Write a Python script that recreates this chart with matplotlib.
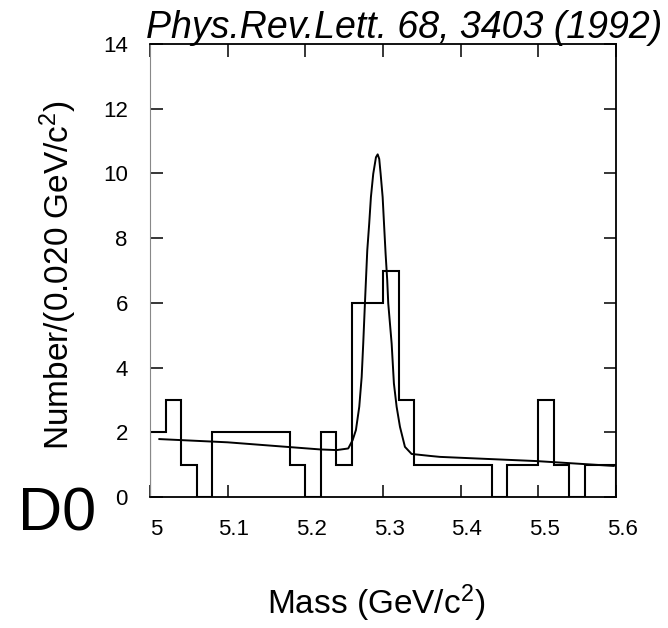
#!/usr/bin/env python3
"""
D0 B-meson candidate mass spectrum (Phys.Rev.Lett. 68, 3403 (1992)).
"""

import numpy as np
import matplotlib
matplotlib.use("Agg")
import matplotlib.pyplot as plt
import matplotlib.transforms as mtransforms

plt.rcParams['font.family'] = ['Liberation Sans', 'DejaVu Sans']
plt.rcParams['mathtext.fontset'] = 'custom'
plt.rcParams['mathtext.rm'] = 'Liberation Sans'
plt.rcParams['mathtext.it'] = 'Liberation Sans:italic'

# histogram: events per 0.020 GeV/c^2 bin, starting at 5.00
bin_start = 5.0
bin_width = 0.020
counts = [2, 3, 1, 0, 2, 2, 2, 2, 2, 1,
          0, 2, 1, 6, 6, 7, 3, 1, 1, 1,
          1, 1, 0, 1, 1, 3, 1, 0, 1, 1]

# fitted curve (gaussian peak on a sloping background)
fit_mass = [5.012, 5.100, 5.219, 5.2403, 5.2552, 5.2609, 5.2651, 5.2694,
            5.2725, 5.2745, 5.2767, 5.2780, 5.2797, 5.2822, 5.2844, 5.2874,
            5.2909, 5.2931, 5.2951, 5.2969, 5.2995, 5.3015, 5.3033, 5.3054,
            5.3067, 5.3111, 5.3140, 5.3175, 5.3218, 5.3282, 5.3368, 5.3604,
            5.3732, 5.4977, 5.597]
fit_counts = [1.79, 1.69, 1.47, 1.45, 1.50, 1.76, 2.07, 2.79,
              3.71, 4.74, 5.99, 6.70, 7.62, 8.45, 9.27, 9.99,
              10.50, 10.59, 10.45, 9.99, 9.27, 8.34, 7.52, 6.70,
              5.99, 4.74, 3.51, 2.79, 2.17, 1.55, 1.33, 1.27,
              1.24, 1.11, 0.96]

x_ticks = [5.0, 5.1, 5.2, 5.3, 5.4, 5.5, 5.6]
x_ticklabels = ['5', '5.1', '5.2', '5.3', '5.4', '5.5', '5.6']
y_ticks = [0, 2, 4, 6, 8, 10, 12, 14]


def main():
    fig = plt.figure(figsize=(6.68, 6.28), dpi=100)
    ax = fig.add_axes([0.2246, 0.2086, 0.6976, 0.7213])

    edges = bin_start + bin_width * np.arange(len(counts) + 1)
    ax.stairs(counts, edges, baseline=0, fill=False, color='black', linewidth=1.5)
    ax.plot(fit_mass, fit_counts, color='black', linewidth=1.4)

    ax.set_xlim(5.0, 5.6)
    ax.set_ylim(0, 14)
    ax.set_xticks(x_ticks)
    ax.set_xticklabels(x_ticklabels)
    ax.set_yticks(y_ticks)
    ax.tick_params(direction='in', length=9, width=1.1, top=True, right=True,
                   labelsize=16, pad=16)

    # the scanned labels sit a little right of their ticks
    shift = mtransforms.ScaledTranslation(6 / 100, 0, fig.dpi_scale_trans)
    for lab in ax.get_xticklabels():
        lab.set_transform(lab.get_transform() + shift)

    for side in ['top', 'right', 'bottom']:
        ax.spines[side].set_linewidth(1.3)
    ax.spines['left'].set_linewidth(0.8)
    ax.spines['left'].set_color('#888888')

    fig.text(376 / 668, 1 - 603 / 628, r'Mass (GeV/c$^{2}$)', fontsize=24,
             ha='center', va='center')
    fig.text(58 / 668, 1 - 275 / 628, r'Number/(0.020 GeV/c$^{2}$)', fontsize=24,
             rotation=90, ha='center', va='center')
    fig.text(662 / 668, 1 - 38 / 628, 'Phys.Rev.Lett. 68, 3403 (1992)',
             fontsize=27, style='italic', ha='right', va='baseline')
    fig.text(57 / 668, 1 - 515 / 628, 'D0', fontsize=44, ha='center', va='center')

    plt.savefig('out.png', dpi=100)
    plt.close()


if __name__ == "__main__":
    main()
